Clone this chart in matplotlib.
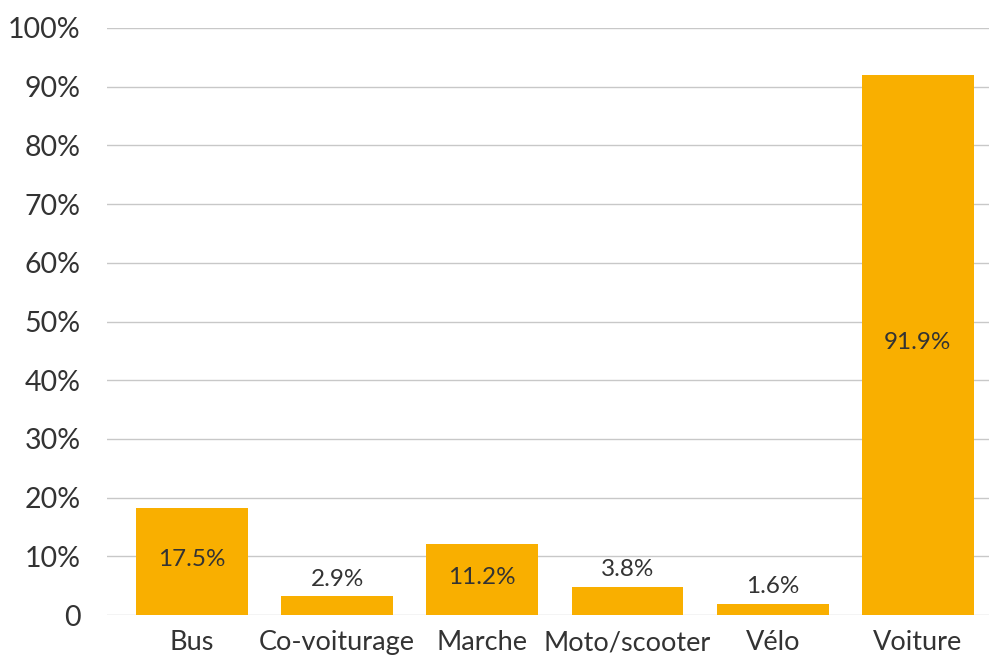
import matplotlib.pyplot as plt
import numpy as np
from matplotlib.ticker import FuncFormatter

categories = ['Bus', 'Co-voiturage', 'Marche', 'Moto/scooter', 'Vélo', 'Voiture']
heights = [18.2, 3.2, 12.1, 4.8, 1.9, 92.0]
labels = ['17.5%', '2.9%', '11.2%', '3.8%', '1.6%', '91.9%']
inside = [True, False, True, False, False, True]

plt.rcParams['font.family'] = ['Lato', 'DejaVu Sans']
text_col = '#333333'

fig = plt.figure(figsize=(9.89, 6.6), dpi=100)
ax = fig.add_axes([107/989, 45/660, 882/989, 587/660])

x = np.arange(len(categories))
bars = ax.bar(x, heights, width=0.77, color='#F9AF00', zorder=3)

for b, h, lab, ins in zip(bars, heights, labels, inside):
    cx = b.get_x() + b.get_width()/2
    if ins:
        ax.text(cx, h/2 + 0.4, lab, ha='center', va='center', fontsize=17.5, color=text_col, zorder=4)
    else:
        ax.text(cx, h + 1.1, lab, ha='center', va='bottom', fontsize=17.5, color=text_col, zorder=4)

ax.set_ylim(0, 100)
ax.set_xlim(-0.585, 5.49)
ax.set_yticks(range(0, 101, 10))
ax.yaxis.set_major_formatter(FuncFormatter(lambda v, p: '0' if v == 0 else f'{int(v)}%'))
ax.set_xticks(x)
ax.set_xticklabels(categories)
ax.tick_params(axis='y', length=0, pad=19, labelsize=20.5, labelcolor=text_col)
ax.tick_params(axis='x', length=0, pad=11, labelsize=19.5, labelcolor=text_col)
ax.grid(axis='y', color='#C8C8C8', linewidth=1, zorder=0)
for s in ax.spines.values():
    s.set_visible(False)

fig.savefig('out.png', dpi=100)
